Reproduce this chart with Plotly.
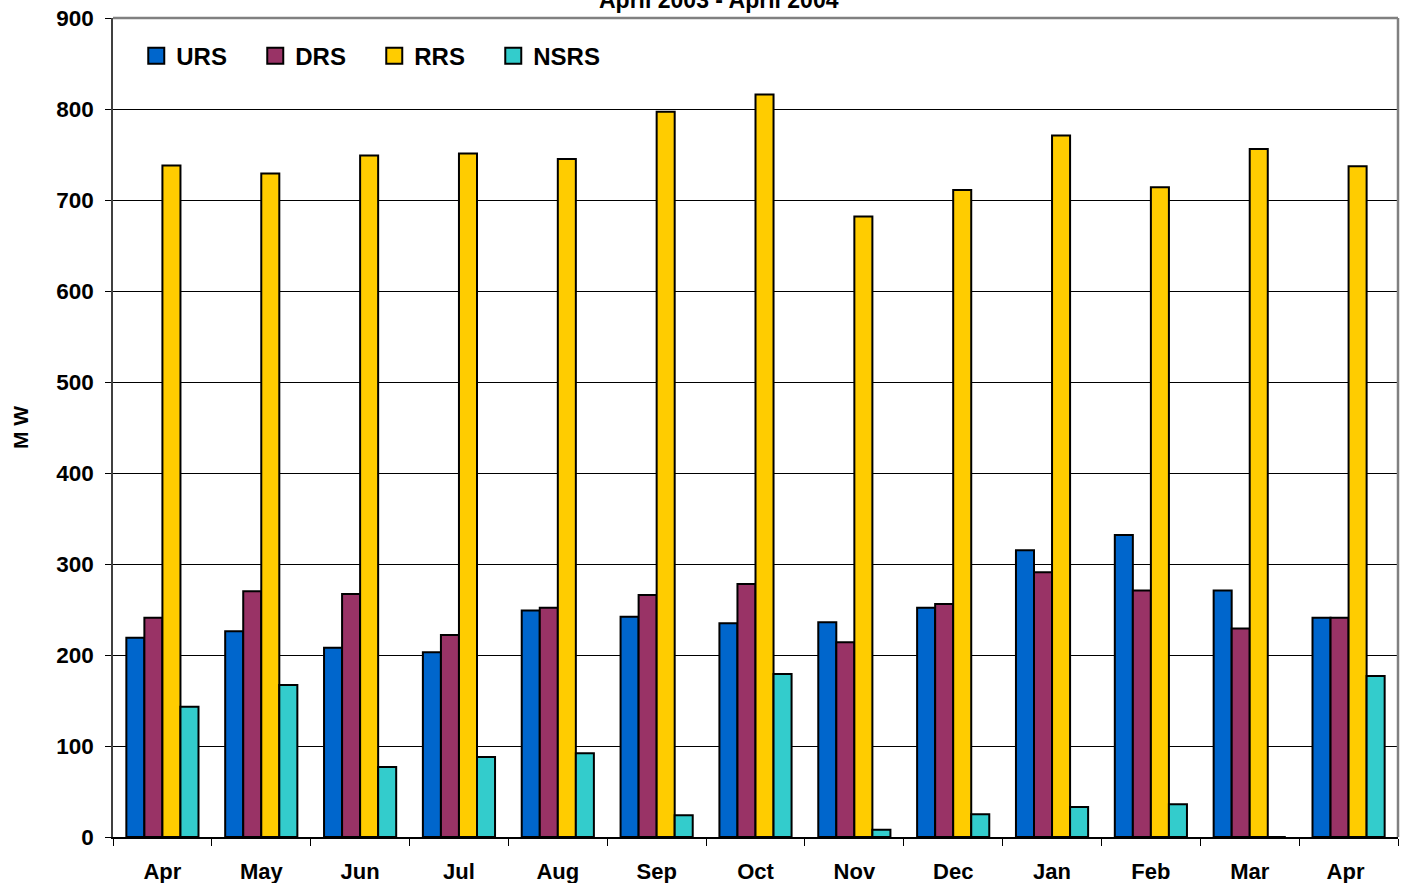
import plotly.graph_objects as go

months = ["Apr", "May", "Jun", "Jul", "Aug", "Sep", "Oct",
          "Nov", "Dec", "Jan", "Feb", "Mar", "Apr "]

urs = [219, 226, 208, 203, 249, 242, 235, 236, 252, 315, 332, 271, 241]
drs = [241, 270, 267, 222, 252, 266, 278, 214, 256, 291, 271, 229, 241]
rrs = [738, 729, 749, 751, 745, 797, 816, 682, 711, 771, 714, 756, 737]
nsrs = [143, 167, 77, 88, 92, 24, 179, 8, 25, 33, 36, 0, 177]

series = [
    ("URS", urs, "#0066CC"),
    ("DRS", drs, "#993366"),
    ("RRS", rrs, "#FFCC00"),
    ("NSRS", nsrs, "#33CCCC"),
]

FONT = "Liberation Sans, Arial, sans-serif"

fig = go.Figure()

for name, vals, color in series:
    fig.add_trace(
        go.Bar(
            x=months,
            y=vals,
            name=name,
            showlegend=False,
            marker=dict(color=color, line=dict(color="black", width=2)),
        )
    )

# legend-only square markers (bar legend swatches are too small)
for name, vals, color in series:
    fig.add_trace(
        go.Scatter(
            x=[None],
            y=[None],
            name=name,
            mode="markers",
            marker=dict(symbol="square", size=16, color=color,
                        line=dict(color="black", width=2)),
        )
    )

# chart title, mostly cut off at the top edge like the original
fig.add_annotation(
    text="<b>April 2003 - April 2004</b>",
    xref="paper", yref="paper",
    x=0.4716, y=1.0040,
    yanchor="bottom",
    showarrow=False,
    font=dict(family=FONT, size=23, color="black"),
)

fig.update_layout(
    width=1401,
    height=883,
    paper_bgcolor="white",
    plot_bgcolor="white",
    barmode="group",
    bargap=0.27,
    bargroupgap=0,
    margin=dict(l=113, r=3, t=18, b=46, autoexpand=False),
    font=dict(family=FONT, color="black"),
    legend=dict(
        orientation="h",
        x=0.0181, y=0.981,
        xanchor="left", yanchor="top",
        entrywidth=74,
        font=dict(family=FONT, size=24, color="black", weight="bold"),
        bgcolor="rgba(0,0,0,0)",
        itemclick=False,
    ),
    showlegend=True,
)

fig.update_xaxes(
    automargin=False,
    showline=True,
    linecolor="black",
    linewidth=1.5,
    ticks="outside",
    tickson="boundaries",
    ticklen=7,
    tickcolor="black",
    showgrid=False,
    ticklabelstandoff=14,
    ticklabeloverflow="allow",
    tickfont=dict(family=FONT, size=22, color="black", weight="bold"),
)

fig.update_yaxes(
    automargin=False,
    range=[0, 900],
    dtick=100,
    showline=True,
    linecolor="#404040",
    linewidth=1.5,
    ticks="outside",
    ticklen=6,
    tickcolor="black",
    showgrid=True,
    gridcolor="black",
    gridwidth=1,
    zeroline=False,
    ticklabelstandoff=7,
    ticklabeloverflow="allow",
    tickfont=dict(family=FONT, size=22.5, color="black", weight="bold"),
    title=dict(text="M W", standoff=22,
               font=dict(family=FONT, size=21, color="black", weight="bold")),
)

# gray frame on the top and right of the plot area
fig.add_shape(type="line", xref="paper", yref="paper",
              x0=0, x1=1, y0=1, y1=1,
              line=dict(color="#808080", width=2.5))
fig.add_shape(type="line", xref="paper", yref="paper",
              x0=1, x1=1, y0=0, y1=1,
              line=dict(color="#808080", width=2.5))

# drop the default page margin so the figure fills the window from 0,0
fig.write_html(
    "out.html",
    config={"displayModeBar": False},
    post_script="document.body.style.margin='0px';",
)
